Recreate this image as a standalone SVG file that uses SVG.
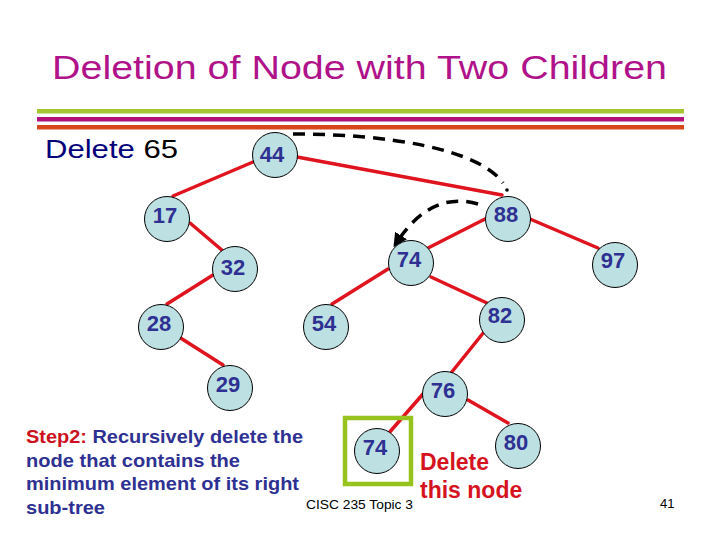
<svg xmlns="http://www.w3.org/2000/svg" width="720" height="540" viewBox="0 0 720 540">
<defs>
<style>
.node circle{fill:#BDE0E3;stroke:#000;stroke-width:1}
.node text{font-family:"Liberation Sans",Arial,sans-serif;font-weight:bold;font-size:22px;fill:#2E3192;text-anchor:middle}
.edge{stroke:#E0141E;stroke-width:3.5;fill:none;stroke-linecap:round}
.dash{stroke:#000;stroke-width:3.5;fill:none;stroke-dasharray:12 8}
.step{font-family:"Liberation Sans",Arial,sans-serif;font-weight:bold;font-size:19px;fill:#2E3192}
</style>
<marker id="ah" viewBox="0 0 10 10" refX="8" refY="5" markerWidth="4" markerHeight="4" orient="auto">
<path d="M0,0 L10,5 L0,10 z" fill="#000"/>
</marker>
</defs>
<rect width="720" height="540" fill="#fff"/>
<text x="52" y="79" font-family="Liberation Sans,Arial,sans-serif" font-size="33" fill="#B0128A" textLength="615" lengthAdjust="spacingAndGlyphs">Deletion of Node with Two Children</text>
<rect x="37" y="109" width="647" height="4.5" fill="#A6C533"/>
<rect x="37" y="117" width="647" height="4.5" fill="#B0127A"/>
<rect x="37" y="125" width="647" height="4.5" fill="#D8461C"/>
<text x="45" y="158" font-family="Liberation Sans,Arial,sans-serif" font-size="25" textLength="133" lengthAdjust="spacingAndGlyphs"><tspan fill="#00007A">Delete </tspan><tspan fill="#000">65</tspan></text>
<g id="connectors">
<line class="edge" x1="253" y1="162" x2="173" y2="196"/>
<line class="edge" x1="297" y1="157" x2="502" y2="195"/>
<line class="edge" x1="190" y1="223" x2="223" y2="251"/>
<line class="edge" x1="213" y1="275" x2="167" y2="304"/>
<line class="edge" x1="179" y1="337" x2="223" y2="365"/>
<line class="edge" x1="485" y1="219" x2="428" y2="248"/>
<line class="edge" x1="530" y1="219" x2="598" y2="248"/>
<line class="edge" x1="388" y1="269" x2="332" y2="304"/>
<line class="edge" x1="431" y1="277" x2="487" y2="303"/>
<line class="edge" x1="484" y1="332" x2="451" y2="373"/>
<line class="edge" x1="423" y1="394" x2="388" y2="434"/>
<line class="edge" x1="468" y1="400" x2="508" y2="423"/>
<path class="dash" d="M293,134 C385,134 478,148 503,183"/>
<circle cx="507" cy="190" r="1.8" fill="#000"/>
<path class="dash" d="M478,204 Q430,190 395,245" marker-end="url(#ah)"/>
</g>
<g id="n44" class="node"><circle cx="275" cy="155" r="22.5"/><text x="272" y="162">44</text></g>
<g id="n17" class="node"><circle cx="167" cy="219" r="22.5"/><text x="165" y="223">17</text></g>
<g id="n88" class="node"><circle cx="508" cy="219" r="22.5"/><text x="506" y="222">88</text></g>
<g id="n32" class="node"><circle cx="235" cy="269" r="22.5"/><text x="233" y="275">32</text></g>
<g id="n74" class="node"><circle cx="411" cy="263" r="22.5"/><text x="409" y="267">74</text></g>
<g id="n97" class="node"><circle cx="615" cy="265" r="22.5"/><text x="613" y="268">97</text></g>
<g id="n28" class="node"><circle cx="161" cy="327" r="22.5"/><text x="159" y="331">28</text></g>
<g id="n54" class="node"><circle cx="326" cy="327" r="22.5"/><text x="324" y="331">54</text></g>
<g id="n82" class="node"><circle cx="502" cy="320" r="22.5"/><text x="500" y="323">82</text></g>
<g id="n29" class="node"><circle cx="230" cy="388" r="22.5"/><text x="228" y="392">29</text></g>
<g id="n76" class="node"><circle cx="445" cy="394" r="22.5"/><text x="443" y="398">76</text></g>
<g id="n74b" class="node"><circle cx="377" cy="451" r="22.5"/><text x="375" y="455">74</text></g>
<g id="n80" class="node"><circle cx="518" cy="446" r="22.5"/><text x="516" y="450">80</text></g>
<rect x="345" y="418" width="66" height="66" fill="none" stroke="#96C31E" stroke-width="4.5"/>
<text x="420" y="470" font-family="Liberation Sans,Arial,sans-serif" font-weight="bold" font-size="23" fill="#D5121E">Delete</text>
<text x="420" y="498" font-family="Liberation Sans,Arial,sans-serif" font-weight="bold" font-size="23" fill="#D5121E">this node</text>
<text x="306" y="509" font-family="Liberation Sans,Arial,sans-serif" font-size="13" fill="#000" textLength="107" lengthAdjust="spacingAndGlyphs">CISC 235 Topic 3</text>
<text x="660" y="508" font-family="Liberation Sans,Arial,sans-serif" font-size="13" fill="#000">41</text>
<text class="step" x="26" y="443" textLength="277" lengthAdjust="spacingAndGlyphs"><tspan fill="#CC1020">Step2:</tspan> Recursively delete the</text>
<text class="step" x="26" y="467" textLength="214" lengthAdjust="spacingAndGlyphs">node that contains the</text>
<text class="step" x="26" y="490" textLength="273" lengthAdjust="spacingAndGlyphs">minimum element of its right</text>
<text class="step" x="26" y="514" textLength="79" lengthAdjust="spacingAndGlyphs">sub-tree</text>
</svg>
